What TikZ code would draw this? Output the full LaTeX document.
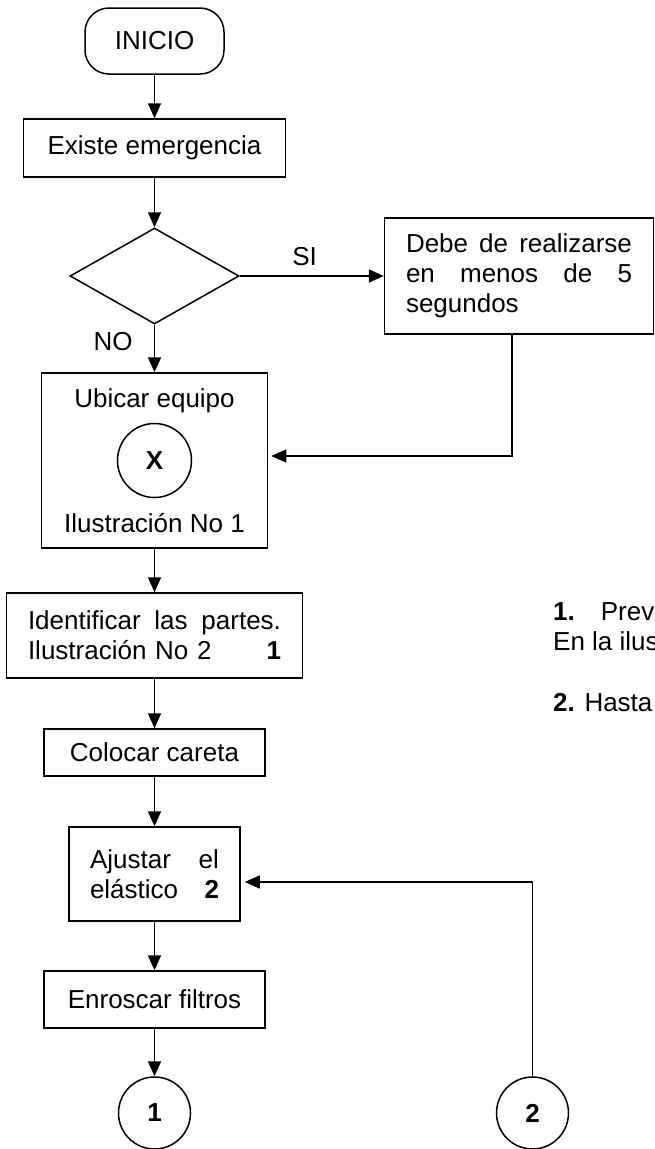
\documentclass[tikz,border=0pt]{standalone}
\usepackage{fontspec}
\setmainfont{Liberation Sans}
\usepackage{tikz}
\usetikzlibrary{arrows.meta, shapes.geometric, positioning}

\begin{document}
\begin{tikzpicture} [
    auto,
    font = \fontsize{26pt}{30pt}\selectfont,
    s/.style = {rectangle, draw, line width=1.5pt, rounded corners=24pt,
    minimum width=139pt, minimum height=66pt, text centered},
    b/.style = {rectangle, draw, line width=1.5pt, inner sep=0pt, text centered},
    d/.style = {diamond, draw, line width=1.5pt, inner sep=0pt,
    minimum width=169pt, minimum height=96pt},
    c/.style = {circle, draw, line width=1.5pt, inner sep=0pt, minimum size=72pt,
    font=\fontsize{26pt}{30pt}\selectfont\bfseries},
    lbl/.style = {inner sep=4pt},
    arrow/.style = {draw, line width=1.8pt, -{Triangle[length=15pt, width=13pt]}},
    node distance = 120pt
    ]
    \useasboundingbox (0,0) rectangle (654pt,-1149pt);

    \node[s] (inicio) at (154.5pt,-41pt) {INICIO};
    \node[b, below of=inicio, node distance=107pt, minimum width=262pt,
    minimum height=58pt] (existe) {Existe emergencia};
    \node[d, below of=existe, node distance=128pt] (decision) {};
    \node[b, right of=decision, node distance=364.5pt, minimum width=269pt,
    minimum height=116pt, text width=226pt, align=left] (debe)
    {Debe\hfill de\hfill realizarse\\en\hfill menos\hfill de\hfill 5\\segundos};
    \node[b, below of=decision, node distance=184.5pt, minimum width=226pt,
    minimum height=175pt] (ubicar) {};
    \node (ubicarTxt) at ([yshift=59.5pt]ubicar.center) {Ubicar equipo};
    \node[c, minimum size=74pt] (x) at (ubicar.center) {X};
    \node (ilus1) at ([yshift=-62.5pt]ubicar.center) {Ilustración No 1};
    \node[b, below of=ubicar, node distance=175pt, minimum width=296pt,
    minimum height=85pt, text width=253pt, align=left] (identificar)
    {Identificar\hfill las\hfill partes.\\Ilustración No 2\hfill\textbf{1}};
    \node[b, below of=identificar, node distance=117pt, minimum width=221pt,
    minimum height=47pt] (colocar) {Colocar careta};
    \node[b, below of=colocar, node distance=121.5pt, minimum width=171pt,
    minimum height=94pt, text width=129pt, align=left] (ajustar)
    {Ajustar\hfill el\\elástico\hfill\textbf{2}};
    \node[b, below of=ajustar, node distance=125.5pt, minimum width=221pt,
    minimum height=57pt] (enroscar) {Enroscar filtros};
    \node[c, below of=enroscar, node distance=113.5pt] (c1) {1};
    \node[c, right of=c1, node distance=378pt] (c2) {2};

    \node[anchor=west, align=left, inner sep=0pt] (nota1) at (553pt,-627pt)
    {\textbf{1.}\quad Prev\\En la ilus};
    \node[anchor=west, inner sep=0pt] (nota2) at (553pt,-703pt)
    {\textbf{2.} Hasta};

    \draw[arrow] (inicio) -- (existe);
    \draw[arrow] (existe) -- (decision);
    \draw[arrow] (decision) -- node[lbl, above=5pt, pos=0.45] {SI} (debe);
    \draw[arrow] (decision) -- node[lbl, left=17pt, pos=0.36] {NO} (ubicar);
    \draw[arrow, line width=1.2pt, shorten >=3pt] ([xshift=-7pt]debe.south)
    |- ([yshift=4.5pt]ubicar.east);
    \draw[arrow] (ubicar) -- (identificar);
    \draw[arrow] (identificar) -- (colocar);
    \draw[arrow] (colocar) -- (ajustar);
    \draw[arrow] (ajustar) -- (enroscar);
    \draw[arrow] (enroscar) -- (c1);
    \draw[arrow, line width=1.2pt, shorten >=4pt] (c2)
    |- ([yshift=-8pt]ajustar.east);

\end{tikzpicture}
\end{document}
